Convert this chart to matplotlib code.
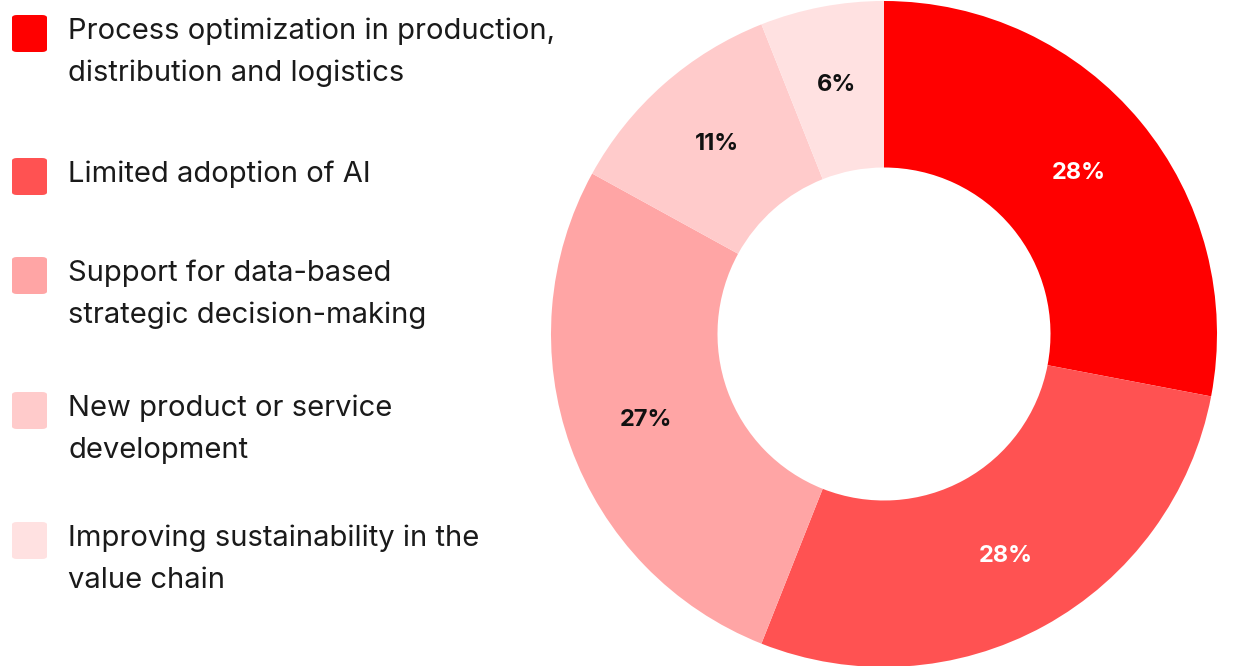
import matplotlib
matplotlib.use("Agg")
import matplotlib.pyplot as plt
from matplotlib.patches import FancyBboxPatch
import numpy as np

categories = [
    "Process optimization in production,\ndistribution and logistics",
    "Limited adoption of AI",
    "Support for data-based\nstrategic decision-making",
    "New product or service\ndevelopment",
    "Improving sustainability in the\nvalue chain",
]
values = [28, 28, 27, 11, 6]
colors = ["#FF0000", "#FF5252", "#FFA5A5", "#FFCBCB", "#FFE1E1"]
label_colors = ["white", "white", "#111111", "#111111", "#111111"]

W, H = 1243, 666
fig = plt.figure(figsize=(W / 100, H / 100), dpi=100)
fig.patch.set_facecolor("white")
FONT = "Inter"

# Donut
cx, cy, r = 884, 334, 333
ax = fig.add_axes([(cx - r) / W, (H - cy - r) / H, 2 * r / W, 2 * r / H])
ax.pie(values, colors=colors, startangle=90, counterclock=False,
       radius=1.0, wedgeprops=dict(width=0.5, edgecolor="none"))
start = 90.0
tot = sum(values)
for v, c in zip(values, label_colors):
    ang = np.deg2rad(start - v / tot * 360 / 2)
    rr = 0.76
    ax.text(rr * np.cos(ang), rr * np.sin(ang), f"{v}%", ha="center", va="center",
            color=c, fontsize=17, fontweight="bold", family=FONT)
    start -= v / tot * 360
ax.set_xlim(-1, 1)
ax.set_ylim(-1, 1)
ax.set_aspect("equal")
ax.axis("off")

# Legend
sq_tops = [15, 158, 257, 392, 522]
for i, (cat, col) in enumerate(zip(categories, colors)):
    top = sq_tops[i]
    x0, w, h = 12, 35, 37
    p = FancyBboxPatch((x0 / W, 1 - (top + h) / H), w / W, h / H,
                       boxstyle="round,pad=0,rounding_size=0.004",
                       transform=fig.transFigure, facecolor=col, edgecolor="none")
    fig.patches.append(p)
    for k, line in enumerate(cat.split("\n")):
        base = top + 24 + k * 42
        fig.text(68 / W, 1 - base / H, line, ha="left", va="baseline", fontsize=21,
                 family=FONT, color="#1a1a1a")

fig.savefig("out.png", dpi=100)
